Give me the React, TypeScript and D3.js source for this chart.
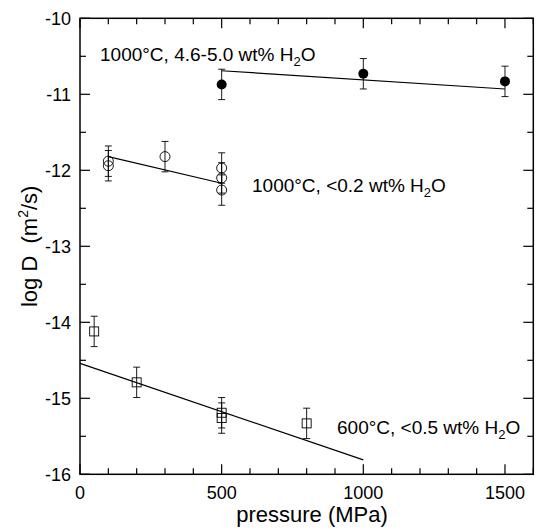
import React from "react";
import * as d3 from "d3";

const wetP = [500, 1000, 1500];
const wetD = [-10.87, -10.73, -10.83];
const dryP = [100, 100, 300, 500, 500, 500];
const dryD = [-11.88, -11.94, -11.82, -11.97, -12.1, -12.26];
const lowP = [50, 200, 500, 500, 800];
const lowD = [-14.12, -14.79, -15.19, -15.26, -15.33];
const errD = 0.2;
const wetFit = [[500, -10.69], [1500, -10.93]];
const dryFit = [[100, -11.82], [500, -12.17]];
const lowFit = [[0, -14.54], [1000, -15.81]];
const xTicks = [0, 500, 1000, 1500];
const yTicks = [-10, -11, -12, -13, -14, -15, -16];

const W = 538, H = 531;
const L = 80, R = 533.3, T = 18.3, B = 474.3;
const FONT = "'Liberation Sans', Arial, Helvetica, sans-serif";

export default function App() {
  const x = d3.scaleLinear().domain([0, 1600]).range([L, R]);
  const y = d3.scaleLinear().domain([-16, -10]).range([B, T]);
  const line = d3.line<number[]>().x((d) => x(d[0])).y((d) => y(d[1]));
  const xMinor = d3.range(0, 1601, 100);
  const yMinor = d3.range(-16, -9.99, 0.5);
  const cap = 3.5;

  const errBar = (p: number, v: number, k: string) => (
    <g key={k} stroke="#000" strokeWidth={0.9}>
      <line x1={x(p)} x2={x(p)} y1={y(v + errD)} y2={y(v - errD)} />
      <line x1={x(p) - cap} x2={x(p) + cap} y1={y(v + errD)} y2={y(v + errD)} />
      <line x1={x(p) - cap} x2={x(p) + cap} y1={y(v - errD)} y2={y(v - errD)} />
    </g>
  );

  return (
    <svg width={W} height={H} style={{ position: "absolute", left: 0, top: 0 }} fontFamily={FONT}>
      <rect x={0} y={0} width={W} height={H} fill="#fff" />
      <rect x={L} y={T} width={R - L} height={B - T} fill="none" stroke="#000" strokeWidth={1.5} />
      {xMinor.map((t) => {
        const major = t % 500 === 0;
        const len = major ? 10 : 6;
        return (
          <g key={"xt" + t} stroke="#000" strokeWidth={1.2}>
            <line x1={x(t)} x2={x(t)} y1={B} y2={B - len} />
            <line x1={x(t)} x2={x(t)} y1={T} y2={T + len} />
          </g>
        );
      })}
      {yMinor.map((t) => {
        const major = Math.abs(t - Math.round(t)) < 1e-6;
        const len = major ? 10 : 6;
        return (
          <g key={"yt" + t} stroke="#000" strokeWidth={1.2}>
            <line x1={L} x2={L + len} y1={y(t)} y2={y(t)} />
            <line x1={R} x2={R - len} y1={y(t)} y2={y(t)} />
          </g>
        );
      })}
      {xTicks.map((t) => (
        <text key={"xl" + t} x={x(t)} y={499} fontSize={18} textAnchor="middle">{t}</text>
      ))}
      {yTicks.map((t) => (
        <text key={"yl" + t} x={71} y={y(t) + 6.5} fontSize={18} textAnchor="end">{t}</text>
      ))}
      <text x={312} y={522} fontSize={22} textAnchor="middle">pressure (MPa)</text>
      <text transform={`translate(37,${(T + B) / 2}) rotate(-90)`} fontSize={22} textAnchor="middle">
        {"log D\u00a0\u00a0(m"}<tspan dy={-9} fontSize={14}>2</tspan><tspan dy={9}>/s)</tspan>
      </text>
      <g fill="none" stroke="#000" strokeWidth={1.2}>
        <path d={line(wetFit) || ""} />
        <path d={line(dryFit) || ""} />
        <path d={line(lowFit) || ""} />
      </g>
      {wetP.map((p, i) => errBar(p, wetD[i], "we" + i))}
      {dryP.map((p, i) => errBar(p, dryD[i], "de" + i))}
      {lowP.map((p, i) => errBar(p, lowD[i], "le" + i))}
      {wetP.map((p, i) => (
        <circle key={"w" + i} cx={x(p)} cy={y(wetD[i])} r={5} fill="#000" />
      ))}
      {dryP.map((p, i) => (
        <circle key={"d" + i} cx={x(p)} cy={y(dryD[i])} r={5} fill="none" stroke="#000" strokeWidth={0.9} />
      ))}
      {lowP.map((p, i) => (
        <rect key={"l" + i} x={x(p) - 4.5} y={y(lowD[i]) - 4.5} width={9} height={9} fill="none" stroke="#000" strokeWidth={0.9} />
      ))}
      <text x={100} y={61} fontSize={19}>
        1000°C, 4.6-5.0 wt% H<tspan dy={5} fontSize={13}>2</tspan><tspan dy={-5}>O</tspan>
      </text>
      <text x={252} y={192} fontSize={19}>
        1000°C, &lt;0.2 wt% H<tspan dy={5} fontSize={13}>2</tspan><tspan dy={-5}>O</tspan>
      </text>
      <text x={337} y={434} fontSize={19}>
        600°C, &lt;0.5 wt% H<tspan dy={5} fontSize={13}>2</tspan><tspan dy={-5}>O</tspan>
      </text>
    </svg>
  );
}
